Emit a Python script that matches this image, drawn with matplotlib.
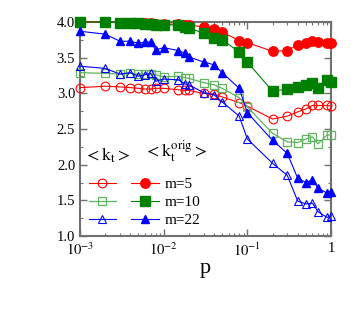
import matplotlib
matplotlib.use("Agg")
import matplotlib.pyplot as plt
from matplotlib.ticker import MultipleLocator, LogLocator, NullFormatter, FixedLocator

plt.rcParams['font.family'] = ['Liberation Serif', 'DejaVu Serif']
plt.rcParams['mathtext.fontset'] = 'stix'

p = [0.001, 0.002, 0.003, 0.004, 0.005, 0.006, 0.007, 0.008, 0.01, 0.015, 0.018, 0.02,
     0.03, 0.04, 0.05, 0.08, 0.1, 0.2, 0.3, 0.4, 0.5, 0.6, 0.7, 0.9, 1.0]

# <k_t> (open symbols)
kt_m5 = [3.08, 3.10, 3.09, 3.08, 3.07, 3.06, 3.06, 3.07, 3.07, 3.05, 3.04, 3.04,
         3.00, 2.99, 2.95, 2.87, 2.82, 2.64, 2.68, 2.74, 2.78, 2.83, 2.83, 2.83, 2.82]
kt_m10 = [3.29, 3.28, 3.27, 3.28, 3.27, 3.27, 3.27, 3.26, 3.23, 3.24, 3.22, 3.21,
          3.15, 3.12, 3.07, 2.94, 2.81, 2.44, 2.32, 2.31, 2.36, 2.39, 2.29, 2.42, 2.41]
kt_m22 = [3.38, 3.35, 3.27, 3.29, 3.24, 3.26, 3.28, 3.17, 3.20, 3.19, 3.13, 3.12,
          3.01, 2.98, 2.88, 2.68, 2.36, 2.02, 1.85, 1.49, 1.45, 1.46, 1.34, 1.26, 1.28]

# <k_t^orig> (filled symbols)
ko_m5 = [4.00, 4.00, 3.99, 3.99, 3.98, 3.98, 3.98, 3.97, 3.97, 3.97, 3.96, 3.96,
         3.93, 3.90, 3.86, 3.74, 3.71, 3.59, 3.60, 3.68, 3.70, 3.73, 3.72, 3.71, 3.71]
ko_m10 = [4.00, 4.00, 3.99, 3.98, 3.98, 3.97, 3.97, 3.96, 3.96, 3.96, 3.93, 3.92,
          3.84, 3.78, 3.75, 3.58, 3.44, 3.03, 3.06, 3.09, 3.12, 3.14, 3.07, 3.18, 3.16]
ko_m22 = [3.87, 3.83, 3.73, 3.73, 3.70, 3.72, 3.72, 3.61, 3.64, 3.60, 3.56, 3.51,
          3.44, 3.40, 3.29, 3.07, 2.73, 2.34, 2.16, 1.81, 1.75, 1.79, 1.67, 1.60, 1.62]

legend_labels = ['m=5', 'm=10', 'm=22']
header_open = r'$<\mathrm{k}_\mathrm{t}>$'
header_fill = r'$<\mathrm{k}_\mathrm{t}^{\mathrm{orig}}>$'

red = '#ff0000'
green = '#008000'
lgreen = '#5fb45f'
blue = '#0000ff'

fig = plt.figure(figsize=(3.6, 3.09), dpi=100)
ax = fig.add_axes([80/360, 1-236/309, 251/360, 214/309])

ms = 6.3
kw = dict(clip_on=False, zorder=3)
h_o5, = ax.plot(p, kt_m5, '-', color=red, lw=0.8, marker='o', ms=ms, mfc='none', mec=red, mew=0.8, **kw)
h_o10, = ax.plot(p, kt_m10, '-', color=lgreen, lw=0.9, marker='s', ms=ms, mfc='none', mec=lgreen, mew=0.9, **kw)
h_o22, = ax.plot(p, kt_m22, '-', color=blue, lw=0.8, marker='^', ms=ms, mfc='none', mec=blue, mew=0.8, **kw)
h_f5, = ax.plot(p, ko_m5, '-', color=red, lw=0.8, marker='o', ms=ms+0.5, mfc=red, mec=red, **kw)
h_f10, = ax.plot(p, ko_m10, '-', color=green, lw=0.8, marker='s', ms=ms+0.3, mfc=green, mec=green, **kw)
h_f22, = ax.plot(p, ko_m22, '-', color=blue, lw=0.8, marker='^', ms=ms, mfc=blue, mec=blue, **kw)

ax.set_xscale('log')
ax.set_xlim(1e-3, 1)
ax.set_ylim(1.0, 4.0)
ax.yaxis.set_major_locator(MultipleLocator(0.5))
ax.yaxis.set_minor_locator(MultipleLocator(0.25))
ax.yaxis.set_major_formatter(matplotlib.ticker.FormatStrFormatter('%.1f'))
ax.xaxis.set_major_locator(FixedLocator([1e-3, 1e-2, 1e-1, 1]))
ax.xaxis.set_major_formatter(matplotlib.ticker.FixedFormatter([r'$10^{-3}$', r'$10^{-2}$', r'$10^{-1}$', '1']))
ax.xaxis.set_minor_locator(LogLocator(base=10, subs=range(2, 10)))
ax.xaxis.set_minor_formatter(NullFormatter())

spine_c = '#707070'
for s in ax.spines.values():
    s.set_color(spine_c)
    s.set_linewidth(1.5)
    s.set_zorder(2)
ax.tick_params(which='both', direction='in', top=True, right=True, color=spine_c,
               labelsize=10.5, labelcolor='black')
ax.tick_params(which='major', length=5, width=1)
ax.tick_params(which='minor', length=2.5, width=0.8)
ax.tick_params(axis='x', pad=4)

ax.set_xlabel('p', fontsize=16, labelpad=0)

handles = [h_o5, h_o10, h_o22, h_f5, h_f10, h_f22]
labels = ['', '', ''] + legend_labels
leg = ax.legend(handles, labels, ncol=2, loc='lower left', bbox_to_anchor=(0.0, 0.0),
                frameon=False, fontsize=11, handlelength=1.8, columnspacing=0.6,
                handletextpad=0.4, labelspacing=0.28, borderaxespad=0.17)

ax.text(0.11, 0.33, header_open, transform=ax.transAxes, fontsize=13, ha='center', va='bottom')
ax.text(0.38, 0.33, header_fill, transform=ax.transAxes, fontsize=13, ha='center', va='bottom')

fig.savefig('out.png', dpi=100)
